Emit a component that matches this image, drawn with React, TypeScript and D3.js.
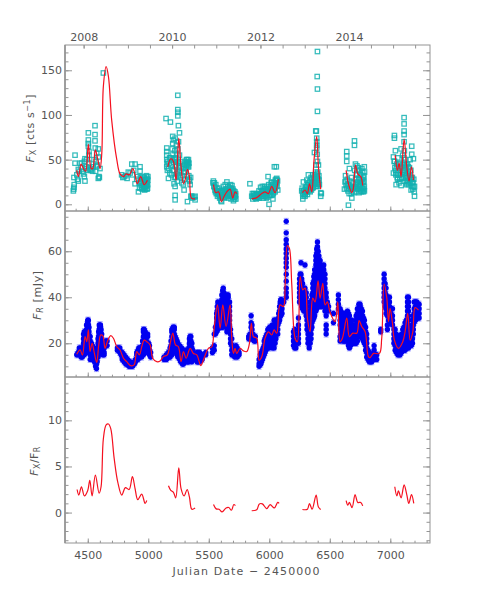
import React, { useEffect, useRef } from "react";
import * as d3 from "d3";

// X-ray count rate, one list per observing season: [JD - 2450000, cts/s]
const xraySeason1: number[][] = [
  [4381, 15], [4384, 17], [4386, 19], [4388, 22], [4386, 30], [4395, 46], [4395, 55], [4410, 33], [4415, 28], [4422, 39],
  [4422, 26], [4430, 37], [4437, 46], [4445, 41], [4450, 46], [4458, 37], [4465, 34], [4472, 48], [4472, 31], [4477, 26],
  [4477, 51], [4484, 40], [4491, 50], [4491, 42], [4498, 38], [4505, 80], [4505, 72], [4505, 68], [4505, 65], [4510, 59],
  [4510, 55], [4510, 46], [4518, 39], [4525, 38], [4532, 40], [4540, 37], [4546, 42], [4552, 50], [4560, 88], [4560, 78],
  [4560, 71], [4562, 63], [4565, 37], [4568, 48], [4574, 57], [4574, 42], [4580, 44], [4587, 62], [4587, 53], [4587, 29],
  [4593, 31], [4596, 30], [4601, 40], [4629, 147],
];
const xraySeason1b: number[][] = [
  [4780, 33], [4790, 30], [4800, 31], [4815, 32], [4825, 29], [4835, 36], [4850, 35], [4864, 45], [4870, 33], [4880, 38],
  [4891, 45], [4891, 23], [4905, 28], [4910, 31], [4919, 14], [4925, 24], [4928, 18], [4932, 42], [4932, 37], [4935, 30],
  [4940, 28], [4942, 21], [4948, 25], [4950, 17], [4955, 31], [4958, 22], [4962, 27], [4965, 19], [4968, 30], [4970, 16],
  [4975, 24], [4978, 28], [4982, 20], [4985, 32], [4988, 25], [4990, 17], [4992, 29], [4995, 22],
  [4936, 24], [4945, 19], [4952, 28], [4960, 18], [4966, 23], [4972, 20], [4977, 17], [4980, 25], [4984, 27], [4987, 21],
  [4991, 24], [4994, 18], [4996, 27], [4997, 31],
];
const xraySeason2: number[][] = [
  [5147, 96], [5183, 92], [5244, 122], [5244, 106], [5244, 103], [5244, 99], [5249, 88], [5258, 80], [5153, 63], [5153, 59],
  [5153, 55], [5153, 50], [5155, 45], [5153, 42], [5158, 38], [5167, 29], [5172, 46], [5178, 35], [5185, 52], [5190, 44],
  [5198, 62], [5202, 76], [5202, 68], [5204, 56], [5205, 38], [5210, 47], [5213, 23], [5216, 30], [5220, 60], [5222, 74],
  [5222, 20], [5222, 10], [5222, 5], [5222, 42], [5228, 52], [5232, 66], [5236, 34], [5240, 26], [5245, 62], [5250, 70],
  [5252, 46], [5258, 55], [5262, 38], [5270, 30], [5278, 24], [5285, 40], [5290, 22], [5296, 16], [5302, 44], [5306, 36],
  [5310, 48], [5314, 43], [5318, 46], [5322, 50], [5326, 44], [5330, 47], [5334, 42], [5324, 3], [5335, 32], [5342, 26],
  [5346, 22], [5360, 9], [5368, 7], [5378, 8], [5387, 9], [5387, 5],
  [5160, 48], [5168, 40], [5176, 52], [5192, 33], [5200, 50], [5208, 72], [5212, 38], [5218, 50], [5226, 30], [5230, 44],
  [5234, 56], [5238, 48], [5242, 36], [5248, 32], [5255, 41], [5265, 48], [5272, 42], [5282, 32], [5292, 36], [5298, 28],
  [5312, 40], [5316, 50], [5320, 44], [5324, 47], [5328, 42], [5332, 50], [5336, 46], [5338, 28], [5350, 30], [5352, 9],
];
const xraySeason3: number[][] = [
  [5535, 24], [5538, 26], [5542, 20], [5546, 24], [5552, 16], [5558, 22], [5562, 12], [5568, 18], [5572, 9], [5576, 15],
  [5582, 11], [5586, 18], [5590, 7], [5595, 13], [5600, 4], [5604, 9], [5606, 3], [5610, 16], [5615, 11], [5620, 20],
  [5625, 7], [5630, 14], [5636, 22], [5640, 10], [5645, 17], [5650, 25], [5655, 12], [5660, 20], [5664, 7], [5670, 16],
  [5675, 10], [5680, 22], [5684, 6], [5688, 14], [5692, 21], [5696, 9], [5700, 17], [5704, 4], [5708, 12], [5712, 8],
  [5716, 14], [5720, 10], [5724, 6],
  [5548, 19], [5555, 14], [5565, 15], [5574, 12], [5580, 14], [5588, 10], [5593, 15], [5598, 9], [5603, 14], [5612, 8],
  [5618, 14], [5622, 10], [5628, 11], [5634, 8], [5638, 16], [5642, 13], [5648, 10], [5652, 15], [5658, 9], [5662, 13],
  [5668, 11], [5672, 19], [5678, 14], [5682, 12], [5686, 18], [5690, 9], [5694, 15], [5698, 12], [5702, 8], [5706, 15],
  [5710, 11], [5714, 6], [5718, 9], [5722, 12],
];
const xraySeason4: number[][] = [
  [5840, 23], [5855, 9], [5860, 12], [5864, 6], [5872, 12], [5880, 8], [5888, 7], [5895, 11], [5902, 8], [5910, 10],
  [5915, 15], [5920, 7], [5928, 19], [5932, 12], [5936, 9], [5942, 20], [5946, 15], [5950, 7], [5955, 12], [5960, 20],
  [5966, 9], [5970, 14], [5975, 7], [5980, 12], [5985, 17], [5990, 31], [5995, 22], [5998, 0], [6000, 10], [6008, 14],
  [6012, 18], [6016, 24], [6022, 10], [6026, 19], [6030, 6], [6035, 13], [6040, 24], [6042, 42], [6046, 18], [6050, 27],
  [6055, 22], [6058, 42], [6062, 29], [6066, 27], [6070, 16],
  [5868, 9], [5876, 10], [5884, 11], [5892, 6], [5898, 9], [5906, 12], [5912, 7], [5924, 11], [5938, 14], [5944, 11],
  [5952, 17], [5958, 9], [5962, 14], [5968, 18], [5972, 10], [5978, 16], [5982, 8], [5988, 13], [5992, 20], [6004, 16],
  [6010, 10], [6014, 20], [6018, 14], [6020, 25], [6024, 16], [6028, 22], [6032, 12], [6038, 18], [6044, 22], [6048, 14],
  [6052, 20], [6056, 28], [6060, 24], [6064, 20], [6068, 26],
];
const xraySeason5: number[][] = [
  [6268, 15], [6272, 18], [6277, 6], [6282, 25], [6284, 15], [6290, 11], [6295, 9], [6300, 19], [6305, 14], [6310, 27],
  [6315, 11], [6320, 22], [6323, 33], [6328, 15], [6335, 26], [6340, 17], [6345, 30], [6350, 21], [6355, 24], [6359, 33],
  [6362, 19], [6366, 29], [6373, 58], [6378, 22], [6384, 82], [6387, 44], [6389, 82], [6392, 74], [6392, 70], [6392, 66],
  [6392, 63], [6392, 26], [6395, 34], [6396, 143], [6398, 171], [6398, 129], [6398, 104], [6400, 20], [6403, 29], [6406, 44],
  [6408, 22], [6412, 27], [6425, 13], [6425, 9], [6430, 12],
  [6276, 12], [6280, 9], [6288, 16], [6292, 13], [6298, 11], [6302, 16], [6308, 20], [6312, 14], [6318, 17], [6326, 24],
  [6332, 19], [6338, 14], [6342, 22], [6348, 16], [6352, 28], [6358, 18], [6364, 24], [6370, 26], [6375, 33], [6380, 28],
  [6384, 36], [6388, 20], [6390, 30], [6394, 23], [6396, 56], [6398, 48], [6401, 36], [6404, 24], [6410, 32], [6414, 22],
];
const xraySeason6: number[][] = [
  [6621, 17], [6626, 25], [6630, 32], [6635, 21], [6640, 59], [6640, 54], [6640, 48], [6645, 28], [6650, 15], [6654, -1],
  [6655, 22], [6660, 12], [6662, 40], [6665, 26], [6672, 17], [6678, 30], [6682, 7], [6685, 14], [6692, 24], [6700, 13],
  [6704, 71], [6704, 66], [6706, 38], [6710, 20], [6712, 45], [6716, 14], [6720, 33], [6724, 43], [6728, 25], [6732, 17],
  [6735, 41], [6738, 29], [6742, 13], [6745, 38], [6748, 21], [6752, 15], [6755, 33], [6758, 27], [6762, 14], [6765, 40],
  [6768, 18], [6772, 36], [6775, 25], [6778, 14], [6782, 32], [6785, 20], [6785, 42],
  [6632, 26], [6638, 18], [6648, 22], [6658, 18], [6668, 20], [6676, 12], [6688, 18], [6696, 19], [6714, 28], [6718, 22],
  [6722, 18], [6726, 34], [6730, 38], [6734, 22], [6740, 20], [6744, 28], [6750, 33], [6754, 20], [6760, 18], [6764, 24],
  [6767, 28], [6770, 15], [6774, 20], [6777, 30], [6780, 17], [6783, 26], [6786, 15], [6787, 36],
];
const xraySeason7: number[][] = [
  [7026, 53], [7026, 35], [7032, 48], [7034, 77], [7034, 74], [7038, 41], [7042, 60], [7046, 33], [7048, 22], [7052, 45],
  [7058, 30], [7062, 52], [7068, 38], [7072, 24], [7076, 46], [7082, 33], [7089, 62], [7090, 21], [7096, 42], [7102, 55],
  [7106, 29], [7110, 46], [7114, 97], [7114, 90], [7114, 82], [7114, 78], [7114, 70], [7116, 60], [7118, 38], [7122, 26],
  [7126, 50], [7130, 41], [7134, 32], [7138, 24], [7142, 45], [7146, 36], [7150, 22], [7154, 29], [7158, 41], [7164, 50],
  [7168, 30], [7172, 16], [7177, 65], [7177, 56], [7180, 24], [7186, 17], [7191, 51], [7194, 28], [7198, 14], [7200, 20],
  [7200, 9],
  [7036, 48], [7044, 38], [7050, 35], [7056, 42], [7060, 28], [7066, 33], [7070, 45], [7078, 28], [7084, 40], [7092, 30],
  [7098, 36], [7104, 44], [7108, 38], [7112, 52], [7120, 44], [7124, 35], [7128, 30], [7132, 44], [7136, 22], [7140, 30],
  [7144, 26], [7148, 42], [7152, 34], [7156, 24], [7160, 32], [7166, 24], [7170, 38], [7174, 28], [7178, 20], [7182, 30],
  [7188, 24], [7192, 20],
];
const xrayPoints = [...xraySeason1, ...xraySeason1b, ...xraySeason2, ...xraySeason3, ...xraySeason4, ...xraySeason5, ...xraySeason6, ...xraySeason7];

// Optical flux, grouped by night: [JD - 2450000, mJy values...]
const optical2008: number[][] = [
  [4409, 15], [4420, 15, 16], [4430, 16, 18], [4445, 14, 16, 18], [4455, 14, 16, 18], [4465, 16, 18, 20, 22, 24],
  [4472, 15, 17, 19, 21, 23, 25], [4480, 17, 19, 21, 23, 25], [4490, 16, 18, 20, 22, 24, 26, 28], [4500, 17, 19, 21, 23, 25, 27, 29, 30],
  [4505, 18, 20, 22, 24, 26, 28, 30], [4510, 17, 19, 21, 23, 25, 27], [4520, 13, 15, 17, 19, 21, 23], [4530, 14, 16, 18, 20],
  [4538, 13, 15, 17, 19], [4545, 13, 15, 17], [4555, 12, 14, 16, 18], [4565, 10, 12, 14, 16], [4572, 9, 11, 13], [4578, 12, 14, 16],
  [4585, 14, 16, 18, 20, 22], [4590, 15, 17, 19, 21, 23, 25], [4595, 16, 18, 20, 22, 24, 26, 28], [4600, 17, 19, 21, 23, 25, 27],
  [4605, 17, 19, 21, 23, 25, 27, 28], [4610, 18, 20, 22, 24, 26], [4615, 18, 20, 22, 24], [4625, 15, 17, 19], [4635, 15, 16, 18], [4650, 19, 21], [4660, 19, 21],
  [4745, 17, 18], [4755, 17, 18], [4765, 16, 17, 18], [4775, 15, 16], [4785, 13, 14, 15, 16], [4792, 13, 14], [4800, 12, 14, 15], [4807, 12, 13], [4815, 11, 13, 14], [4822, 11, 12], [4830, 11, 12, 13],
  [4840, 10, 11, 12], [4850, 10, 11, 12], [4860, 10, 11], [4870, 10, 11], [4885, 11, 12], [4895, 12, 13], [4905, 13, 15, 16], [4915, 13, 15, 17], [4922, 14, 16, 18], [4930, 14, 16, 18],
  [4938, 15, 17], [4945, 14, 16, 18], [4953, 17, 19, 21], [4960, 15, 17, 19, 21, 23, 25, 26], [4967, 17, 19, 21, 23, 25, 26], [4975, 17, 19, 21, 23, 25], [4985, 17, 19, 21], [4995, 16, 18, 20, 23, 24],
  [5003, 16, 18, 20], [5010, 15, 17, 19], [5020, 14, 16],
];
const optical2010: number[][] = [
  [5130, 13, 14], [5140, 13, 14], [5150, 13, 14, 15], [5158, 14, 15], [5165, 14, 15, 16], [5172, 14, 16], [5180, 14, 16, 18], [5188, 15, 17, 19, 21], [5195, 15, 17, 19, 21, 23, 25, 26],
  [5205, 17, 19, 21, 23, 25, 27], [5215, 18, 20, 22, 24, 26, 27], [5222, 17, 19, 21, 23], [5230, 16, 18, 20, 22], [5238, 15, 17, 19, 21], [5245, 14, 16, 18, 20], [5253, 14, 16, 18],
  [5260, 13, 15, 17, 19], [5268, 12, 14, 16, 18], [5275, 12, 14, 16, 18], [5283, 11, 13, 15], [5290, 11, 13, 15, 17], [5298, 12, 14, 16], [5305, 13, 15, 17], [5312, 12, 14, 16], [5320, 12, 14, 16],
  [5328, 12, 14, 16], [5335, 12, 14, 16, 18], [5340, 14, 16, 18, 20, 22], [5345, 13, 15, 17, 19, 21, 23], [5352, 13, 15, 17, 19, 21, 23], [5360, 12, 14, 16, 18, 20], [5368, 13, 15, 17], [5375, 13, 15], [5385, 13, 15], [5395, 13, 15],
  [5403, 12, 14, 16], [5410, 12, 14, 16], [5418, 12, 14, 16], [5425, 12, 14, 16], [5435, 13, 15], [5445, 13, 14, 15], [5475, 15, 16], [5530, 16, 18], [5545, 17, 19, 24],
  [5555, 24, 27], [5565, 25, 27, 29, 31, 33], [5570, 26, 28, 30, 32, 34, 36], [5575, 26, 28, 30, 32, 34, 36, 38], [5585, 27, 29, 31, 33, 35, 37], [5592, 27, 29, 31, 33, 35, 37],
  [5600, 27, 29, 31, 33, 35, 37], [5608, 27, 29, 31, 33, 35, 37, 39, 41], [5615, 27, 29, 31, 33, 35, 37, 39, 41, 43], [5620, 28, 30, 32, 34, 36, 38, 40, 42, 44], [5625, 30, 32, 34, 36, 38, 40, 42],
  [5635, 28, 30, 32, 34, 36], [5642, 27, 29, 31, 33, 35, 37], [5650, 25, 27, 29, 31, 33, 35, 37, 39, 41], [5660, 26, 28, 30, 32, 34, 36, 38, 40, 41],
  [5672, 26, 28, 30, 32, 34, 36, 38], [5680, 20, 22, 24, 26], [5690, 15, 17, 19, 22], [5698, 15, 17, 19], [5705, 15, 17], [5715, 14, 16, 18],
  [5725, 15, 17, 19], [5735, 14, 16, 18], [5742, 15, 17], [5750, 15, 16],
];
const optical2012: number[][] = [
  [5830, 22, 23], [5840, 22, 23, 24], [5850, 22, 24, 27, 29, 32], [5857, 22, 24, 26, 28], [5865, 22, 23, 24], [5875, 21, 23], [5885, 21, 23], [5916, 10, 11, 13], [5925, 11, 13, 15],
  [5930, 11, 13, 15], [5935, 12, 14, 16], [5943, 13, 15, 17], [5950, 14, 16, 18], [5958, 15, 17, 19, 21], [5965, 16, 18, 20, 22], [5972, 17, 19, 21, 23], [5980, 18, 20, 22, 24], [5988, 18, 20, 22, 24, 26], [5995, 18, 20, 22, 24, 26],
  [6003, 19, 21, 23, 25, 27], [6010, 19, 21, 23, 25, 27], [6018, 19, 21, 23, 25, 27], [6025, 18, 20, 22, 24, 26, 28], [6032, 19, 21, 23, 25, 27], [6040, 18, 20, 22, 24, 26, 28, 30], [6048, 20, 22, 24, 26, 28, 30], [6055, 22, 24, 26, 28, 30],
  [6062, 24, 26, 28, 30], [6070, 24, 26, 28, 30], [6078, 29, 31, 33], [6085, 30, 32, 34, 36], [6090, 32, 34, 36, 38], [6095, 32, 34, 36, 37, 38, 39], [6100, 33, 35, 37, 39], [6105, 33, 35, 37], [6120, 38],
  [6140, 73, 68, 65, 63, 61, 59, 57, 55, 53, 50, 47, 44, 42, 40], [6200, 19, 21, 23, 25], [6210, 18, 20, 26], [6220, 18, 20, 24],
  [6241, 20, 22, 24, 26, 28, 31], [6250, 38, 40, 42, 44, 46, 48], [6255, 38, 40, 42, 44, 46, 48, 50], [6262, 55, 38, 40, 42, 44, 46, 48, 50],
  [6268, 36, 38, 40, 42, 44, 46, 48], [6275, 35, 37, 39, 41, 43, 46], [6285, 34, 36, 38, 40, 42, 44], [6295, 34, 36, 38, 40, 42, 44, 54], [6305, 32, 34, 36, 38, 40, 42], [6312, 26, 28, 30, 32, 34, 36, 38],
  [6320, 20, 22, 24, 26, 28, 30, 32, 34], [6330, 18, 20, 22, 24, 26, 28, 30, 32], [6338, 20, 22, 24, 26, 28, 30, 32, 34], [6345, 22, 24, 26, 28, 30, 32, 34, 36, 38], [6352, 27, 29, 31, 33, 35, 37, 39, 41],
  [6360, 30, 32, 34, 36, 38, 40, 42, 44, 46], [6368, 31, 33, 35, 37, 39, 41, 43, 45, 47, 49], [6375, 32, 34, 36, 38, 40, 42, 44, 46, 48, 50, 52],
  [6385, 34, 36, 38, 40, 42, 44, 46, 48, 50, 52, 54, 56, 58], [6392, 35, 37, 39, 41, 43, 45, 47, 49, 51, 53, 55, 57, 59, 61], [6398, 36, 38, 40, 42, 44, 46, 48, 50, 52, 54, 56, 58, 60, 62, 64], [6404, 36, 38, 40, 42, 44, 46, 48, 50, 52, 54, 56, 58, 60],
  [6410, 36, 38, 40, 42, 44, 46, 48, 50, 52, 54, 56, 58], [6420, 36, 38, 40, 42, 44, 46, 48, 50, 52, 54, 56], [6428, 36, 38, 40, 42, 44, 46, 48, 50, 52, 54],
  [6435, 36, 38, 40, 42, 44, 46, 48, 50, 52], [6442, 37, 39, 41, 43, 45, 47, 49, 51, 53], [6450, 38, 40, 42, 44, 46, 48, 50, 52, 54], [6460, 34, 36, 38, 40, 42, 44, 46, 48, 50],
  [6470, 24, 26, 28, 32, 34, 36, 38, 40, 42], [6480, 36, 38], [6490, 34, 36],
];
const optical2014: number[][] = [
  [6530, 29, 33], [6571, 35, 37, 39, 41], [6585, 21, 23, 28, 30, 33, 35], [6592, 22, 24, 26, 28, 30, 32, 34], [6599, 22, 24, 26, 28, 30, 32], [6608, 21, 23, 25, 27, 29, 31], [6617, 21, 23, 25, 27, 29, 31, 33],
  [6626, 21, 23, 25, 27, 29, 31, 33], [6636, 21, 23, 25, 27, 29, 31, 33], [6646, 21, 23, 25, 27, 29, 31, 33, 34], [6654, 19, 21, 23, 25, 27, 29, 31, 33], [6662, 18, 20, 22, 24, 26, 28, 30, 32],
  [6672, 19, 21, 23, 25, 27, 29], [6682, 20, 22, 24, 26, 28, 30], [6695, 20, 22, 24, 26, 28], [6709, 20, 22, 24, 26, 28], [6718, 20, 22, 24, 26, 28, 30, 32], [6728, 21, 23, 25, 27, 29, 31, 33, 35],
  [6740, 23, 25, 27, 29, 31, 33, 35, 37], [6750, 24, 26, 28, 30, 32, 34, 36, 37], [6760, 23, 25, 27, 29, 31, 33, 35], [6770, 22, 24, 26, 28, 30, 32, 34], [6778, 21, 23, 25, 27, 29, 31], [6786, 20, 22, 24, 26, 28, 30],
  [6796, 17, 19, 21, 23, 25, 27], [6805, 14, 16, 18, 20, 22, 24], [6816, 13, 15, 17], [6827, 12, 14, 16], [6837, 12, 14, 15], [6847, 12, 14, 15], [6857, 13, 15], [6866, 13, 15, 17, 19], [6877, 13, 15], [6888, 13, 15], [6921, 25, 26],
  [6949, 38, 40, 42, 44, 46, 48, 50], [6957, 36, 38, 40, 42, 44, 46], [6965, 33, 35, 37, 39, 41, 44], [6976, 26, 28, 32, 34, 36, 38, 40], [6985, 30, 32, 34, 36, 38],
  [6993, 30, 32, 34, 36, 38, 40], [7005, 29, 31, 33, 35], [7018, 28, 30, 32, 35], [7030, 20, 22, 24, 26], [7040, 17, 19, 21, 23, 26], [7050, 16, 18, 20, 22, 24], [7062, 15, 17, 19, 21, 23], [7072, 15, 17, 19, 21],
  [7081, 15, 17, 19, 22], [7092, 16, 18, 20, 22, 24], [7103, 17, 19, 21, 23, 26], [7112, 17, 19, 21, 23, 25, 27], [7122, 17, 19, 21, 23, 25, 27, 29], [7132, 18, 20, 22, 24, 26, 28, 30],
  [7142, 18, 20, 22, 24, 26, 28, 30, 32, 34, 36, 38, 40], [7150, 18, 20, 22, 24, 26, 28, 30, 32, 34, 36, 38, 40], [7164, 19, 21, 23, 25], [7174, 19, 21, 23, 25, 27], [7183, 20, 22, 24, 26, 28, 30],
  [7190, 24, 26, 28, 30, 32], [7197, 29, 31, 33, 35, 38], [7208, 30, 32, 34, 36, 38], [7219, 31, 33, 35, 38], [7228, 31, 33, 35, 37], [7238, 31, 33, 35, 37],
];
const opticalPoints = [...optical2008, ...optical2010, ...optical2012, ...optical2014].flatMap(([jd, ...vals]) =>
  vals.map(v => [jd, v])
);
const opticalError = 1.3;

// Smoothed X-ray curves, one per season
const xrayCurves: number[][][] = [
  [[4409, 38], [4423, 31], [4445, 45], [4464, 40], [4483, 37], [4505, 67], [4528, 40], [4541, 40], [4563, 61], [4583, 50], [4602, 40], [4616, 57], [4629, 132], [4652, 154], [4671, 143], [4698, 94], [4740, 50], [4767, 34], [4795, 31], [4817, 34], [4844, 33], [4872, 40], [4891, 33], [4910, 23], [4938, 31], [4966, 22], [4993, 27]],
  [[5161, 42], [5186, 51], [5208, 48], [5230, 27], [5252, 74], [5271, 42], [5291, 23], [5304, 27], [5324, 39], [5340, 31], [5357, 7], [5387, 6]],
  [[5539, 22], [5558, 13], [5580, 14], [5605, 3], [5627, 9], [5649, 14], [5676, 17], [5698, 7], [5717, 14], [5731, 12]],
  [[5855, 6], [5896, 7.5], [5938, 12], [5965, 14], [5993, 12], [6020, 20], [6048, 13], [6075, 28]],
  [[6274, 13], [6296, 16], [6315, 12], [6332, 23], [6351, 14], [6370, 50], [6392, 76], [6406, 42], [6425, 17]],
  [[6635, 38], [6654, 23], [6682, 13], [6695, 18], [6712, 44], [6731, 34], [6756, 31], [6772, 21]],
  [[7040, 55], [7059, 38], [7073, 46], [7089, 31], [7114, 73], [7136, 42], [7155, 26], [7175, 42], [7191, 27]],
];

// Smoothed optical curve
const opticalCurve: number[][] = [
  [4409, 15.2], [4437, 17.1], [4456, 14.9], [4478, 22.9], [4492, 20.7], [4505, 25.8], [4519, 16.4], [4536, 20], [4552, 16.4], [4574, 11.7],
  [4591, 19.3], [4607, 23.6], [4624, 23.3], [4643, 17.8], [4662, 20.7], [4690, 23.3], [4712, 22.2], [4740, 18.5], [4767, 17.1], [4795, 13.5],
  [4822, 12], [4855, 10.3], [4883, 10.6], [4905, 16.4], [4927, 15], [4946, 18.5], [4966, 21.4], [4988, 20.7], [5015, 19.3], [5037, 13.5],
  [5070, 12], [5098, 12.3], [5125, 14.2], [5158, 15], [5181, 20], [5203, 24.4], [5225, 19.3], [5249, 18.5], [5271, 12], [5291, 16.4],
  [5313, 13.5], [5346, 17.8], [5373, 15.6], [5401, 15], [5434, 10.3], [5461, 13.5], [5497, 17.8], [5525, 18.5], [5544, 26.5], [5572, 36.7],
  [5594, 26.5], [5616, 36.7], [5643, 27.3], [5676, 36.7], [5690, 22.2], [5704, 15.6], [5717, 17.8], [5731, 15.6], [5759, 17.8], [5786, 16.7],
  [5814, 16.4], [5836, 20], [5852, 28.7], [5869, 22.9], [5896, 22.2], [5916, 12.7], [5938, 14.2], [5965, 22.2], [5993, 25], [6020, 23.6],
  [6040, 25.8], [6062, 24.4], [6089, 36.7], [6117, 36], [6131, 45.4], [6150, 62.5], [6166, 61.3], [6186, 45.4], [6213, 22.2], [6232, 20.7],
  [6255, 49], [6277, 43.2], [6296, 44], [6315, 30.9], [6337, 25], [6359, 39.6], [6378, 38], [6403, 47.1], [6420, 39.6], [6442, 46.1],
  [6461, 36.7], [6480, 38], [6502, 33.5], [6544, 29.4], [6566, 38], [6585, 20.7], [6604, 22.2], [6640, 30.9], [6662, 22.9], [6690, 24.4],
  [6723, 24.4], [6742, 29.9], [6764, 27.3], [6792, 25], [6819, 14.2], [6833, 13.8], [6861, 15.6], [6910, 15.6], [6929, 22.2], [6949, 45.7],
  [6971, 39.6], [6985, 29.4], [6998, 35.2], [7018, 28.7], [7034, 21.4], [7067, 17.8], [7103, 20.7], [7122, 25], [7144, 33], [7164, 21.4],
  [7186, 25], [7205, 35.5], [7233, 34.4],
];

// Flux ratio curves, one per season
const ratioCurves: number[][][] = [
  [[4412, 2.5], [4426, 1.9], [4448, 2.8], [4472, 1.8], [4500, 2.4], [4517, 3.5], [4536, 1.8], [4563, 4.05], [4594, 2.1], [4610, 2.8], [4629, 8], [4652, 9.5], [4671, 9.6], [4690, 9.1], [4718, 5.9], [4748, 3.3], [4781, 1.9], [4811, 2.7], [4842, 2.5], [4869, 3.9], [4891, 2.6], [4913, 1.4], [4946, 2], [4974, 1], [4988, 1.3]],
  [[5167, 2.9], [5186, 2.4], [5208, 2.2], [5227, 1.6], [5252, 4.85], [5271, 2.6], [5296, 1.8], [5321, 2.5], [5340, 1.7], [5360, 0.36], [5387, 0.5]],
  [[5539, 0.87], [5561, 0.4], [5585, 0.36], [5610, 0.07], [5643, 0.5], [5665, 0.55], [5687, 0.25], [5707, 0.87], [5720, 0.76]],
  [[5855, 0.2], [5896, 0.3], [5918, 0.94], [5943, 0.94], [5979, 0.43], [6007, 0.87], [6042, 0.5], [6070, 1.1], [6081, 1]],
  [[6274, 0.33], [6315, 0.36], [6332, 0.98], [6354, 0.36], [6387, 1.9], [6406, 0.6], [6425, 0.33]],
  [[6635, 1.3], [6649, 0.8], [6662, 1.1], [6684, 0.54], [6709, 1.95], [6731, 1.1], [6756, 1.1], [6772, 0.72]],
  [[7037, 2.8], [7054, 1.8], [7067, 2.35], [7089, 1.6], [7114, 3], [7136, 1.95], [7153, 1], [7175, 1.95], [7194, 1]],
];

const yearLabels = [2008, 2010, 2012, 2014];
const yearTicksJd = [4466, 5197, 5927, 6658];
const halfYearTicksJd = [4466, 4649, 4832, 5014, 5197, 5379, 5562, 5744, 5927, 6110, 6293, 6475, 6658, 6840, 7023, 7205];

const FONT = "'DejaVu Sans', sans-serif";
const TEXT = "#555555";
const AXIS = "#949494";
const RED = "#f5101f";
const left = 65;
const right = 430;

const x = d3.scaleLinear().domain([4312, 7328]).range([left, right]);
const yX = d3.scaleLinear().domain([-7.5, 178.3]).range([211, 45]);
const yR = d3.scaleLinear().domain([5.35, 77.5]).range([377, 211]);
const yQ = d3.scaleLinear().domain([-3.3, 14.7]).range([543, 377]);

const curve = d3.line<number[]>().x(d => x(d[0])).y(d => d[1]).curve(d3.curveCatmullRom);
const path = (pts: number[][], y: d3.ScaleLinear<number, number>) => curve(pts.map(p => [p[0], y(p[1])])) as string;

const panels = [
  { y: yX, major: [0, 50, 100, 150], minor: d3.range(0, 180, 10) },
  { y: yR, major: [20, 40, 60], minor: d3.range(10, 80, 5) },
  { y: yQ, major: [0, 5, 10], minor: d3.range(-3, 15, 1) },
];

const styleAxis = (g: d3.Selection<SVGGElement, unknown, null, undefined>) => {
  g.select(".domain").remove();
  g.selectAll("line").attr("stroke", AXIS).attr("stroke-width", 1);
  g.selectAll("text").attr("fill", TEXT).attr("font-family", FONT).attr("font-size", 11);
};

const App = () => {
  const axesRef = useRef<SVGGElement>(null);

  useEffect(() => {
    const root = d3.select(axesRef.current as SVGGElement);
    root.selectAll("*").remove();
    const noLabel = () => "";

    // y axes: ticks point inward on both sides
    panels.forEach(p => {
      const l = root.append("g").attr("transform", `translate(${left},0)`);
      l.append("g").call(d3.axisLeft(p.y).tickValues(p.minor).tickSizeInner(-3.5).tickSizeOuter(0).tickFormat(noLabel)).call(styleAxis);
      l.append("g").call(d3.axisLeft(p.y).tickValues(p.major).tickSizeInner(-7).tickSizeOuter(0).tickPadding(3).tickFormat(d3.format("d") as any)).call(styleAxis);
      const r = root.append("g").attr("transform", `translate(${right},0)`);
      r.append("g").call(d3.axisRight(p.y).tickValues(p.minor).tickSizeInner(-3.5).tickSizeOuter(0).tickFormat(noLabel)).call(styleAxis);
      r.append("g").call(d3.axisRight(p.y).tickValues(p.major).tickSizeInner(-7).tickSizeOuter(0).tickFormat(noLabel)).call(styleAxis);
    });

    // x ticks on each panel bottom, labels only on the last one
    [211, 377, 543].forEach(py => {
      const g = root.append("g").attr("transform", `translate(0,${py})`);
      g.append("g").call(d3.axisBottom(x).tickValues(d3.range(4400, 7400, 100)).tickSizeInner(-2.3).tickSizeOuter(0).tickFormat(noLabel)).call(styleAxis);
      g.append("g")
        .call(d3.axisBottom(x).tickValues(d3.range(4500, 7500, 500)).tickSizeInner(-4.5).tickSizeOuter(0).tickPadding(8)
          .tickFormat(py === 543 ? (d3.format("d") as any) : noLabel))
        .call(styleAxis);
    });

    // calendar years along the top
    const top = root.append("g").attr("transform", "translate(0,45)");
    top.append("g").call(d3.axisTop(x).tickValues(halfYearTicksJd).tickSizeInner(-3.5).tickSizeOuter(0).tickFormat(noLabel)).call(styleAxis);
    top.append("g")
      .call(d3.axisTop(x).tickValues(yearTicksJd).tickSizeInner(-3.5).tickSizeOuter(0).tickPadding(4)
        .tickFormat((_, i) => String(yearLabels[i])))
      .call(styleAxis);
  }, []);

  return (
    <svg width={490} height={603} style={{ position: "absolute", left: 0, top: 0, background: "#fff" }}>
      <g>
        {xrayPoints.map((d, i) => (
          <rect key={i} x={x(d[0]) - 2.2} y={yX(d[1]) - 2.2} width={4.4} height={4.4} fill="none" stroke="#12b0b0" strokeOpacity={0.85} strokeWidth={1.25} />
        ))}
        {xrayCurves.map((c, i) => (
          <path key={i} d={path(c, yX)} fill="none" stroke={RED} strokeWidth={1.2} />
        ))}
      </g>
      <g>
        {opticalPoints.map((d, i) => (
          <path key={i} d={`M${x(d[0])},${yR(d[1] - opticalError)}V${yR(d[1] + opticalError)}M${x(d[0]) - 2.5},${yR(d[1] + opticalError)}h5M${x(d[0]) - 2.5},${yR(d[1] - opticalError)}h5`} stroke="#8f8fff" strokeWidth={0.8} fill="none" />
        ))}
        {opticalPoints.map((d, i) => (
          <circle key={i} cx={x(d[0])} cy={yR(d[1])} r={2.7} fill="#0000f0" />
        ))}
        <path d={path(opticalCurve, yR)} fill="none" stroke={RED} strokeWidth={1.2} />
      </g>
      <g>
        {ratioCurves.map((c, i) => (
          <path key={i} d={path(c, yQ)} fill="none" stroke={RED} strokeWidth={1.2} />
        ))}
      </g>
      <rect x={left} y={45} width={right - left} height={166} fill="none" stroke={AXIS} strokeWidth={1} />
      <rect x={left} y={211} width={right - left} height={166} fill="none" stroke={AXIS} strokeWidth={1} />
      <rect x={left} y={377} width={right - left} height={166} fill="none" stroke={AXIS} strokeWidth={1} />
      <line x1={left} x2={left} y1={45} y2={543} stroke={AXIS} strokeWidth={1.6} />
      <g ref={axesRef} />
      <g fontFamily={FONT} fill={TEXT}>
        <text transform="translate(34,128) rotate(-90)" textAnchor="middle" fontSize={11} letterSpacing={0.6}>
          <tspan fontStyle="italic">F</tspan>
          <tspan fontSize={8} dy={2}>X</tspan>
          <tspan dy={-2}> [cts s</tspan>
          <tspan fontSize={8} dy={-4}>−1</tspan>
          <tspan dy={4}>]</tspan>
        </text>
        <text transform="translate(41,295) rotate(-90)" textAnchor="middle" fontSize={11} letterSpacing={0.6}>
          <tspan fontStyle="italic">F</tspan>
          <tspan fontSize={8} fontStyle="italic" dy={2}>R</tspan>
          <tspan dy={-2}> [mJy]</tspan>
        </text>
        <text transform="translate(38,461) rotate(-90)" textAnchor="middle" fontSize={11} letterSpacing={0.4}>
          <tspan fontStyle="italic">F</tspan>
          <tspan fontSize={8} dy={2}>X</tspan>
          <tspan dy={-2}>/F</tspan>
          <tspan fontSize={8} dy={2}>R</tspan>
        </text>
        <text x={246.5} y={575} textAnchor="middle" fontSize={11} letterSpacing={1.1}>Julian Date − 2450000</text>
      </g>
    </svg>
  );
};

export default App;
